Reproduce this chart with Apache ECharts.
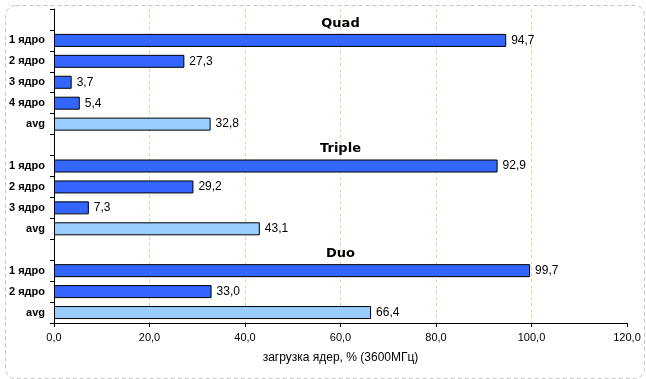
<!DOCTYPE html>
<html>
<head>
<meta charset="utf-8">
<script src="https://cdn.jsdelivr.net/npm/echarts@6/dist/echarts.min.js"></script>
<style>
html,body{margin:0;padding:0;background:#fff;}
#chart{width:646px;height:379px;}
</style>
</head>
<body>
<div id="chart"></div>
<script>
const groups = ['Quad', 'Triple', 'Duo'];
const rowLabels = [
  ['1 ядро', '2 ядро', '3 ядро', '4 ядро', 'avg'],
  ['1 ядро', '2 ядро', '3 ядро', 'avg'],
  ['1 ядро', '2 ядро', 'avg']
];
const values = [
  [94.7, 27.3, 3.7, 5.4, 32.8],
  [92.9, 29.2, 7.3, 43.1],
  [99.7, 33.0, 66.4]
];
const xTicks = { min: 0, max: 120, interval: 20 };
const axisName = 'загрузка ядер, % (3600МГц)';

const categories = [];
const barData = [];
const headerData = [];
groups.forEach((g, gi) => {
  categories.push(g + '|');
  headerData.push({ value: [(xTicks.min + xTicks.max) / 2, categories.length - 1], name: g });
  barData.push(null);
  rowLabels[gi].forEach((lab, ri) => {
    categories.push(g + '|' + lab);
    barData.push({
      value: values[gi][ri],
      itemStyle: { color: lab === 'avg' ? '#99ccff' : '#3366ff' }
    });
  });
});

const fmt = v => v.toFixed(1).replace('.', ',');

const chart = echarts.init(document.getElementById('chart'), null, { renderer: 'canvas' });
chart.setOption({
  animation: false,
  backgroundColor: '#ffffff',
  grid: { left: 54, right: 19, top: 9, bottom: 56, containLabel: false },
  xAxis: {
    type: 'value',
    min: xTicks.min, max: xTicks.max, interval: xTicks.interval,
    name: axisName,
    nameLocation: 'middle',
    nameGap: 29,
    nameTextStyle: { fontFamily: 'Liberation Sans', fontSize: 12, color: '#000' },
    axisLine: { show: true, lineStyle: { color: '#000', width: 1 } },
    axisTick: { show: true, length: 4, lineStyle: { color: '#000' } },
    axisLabel: { margin: 9, fontFamily: 'Liberation Sans', fontSize: 11, color: '#000', formatter: v => fmt(v) },
    splitLine: { show: true, showMinLine: false, showMaxLine: false, lineStyle: { color: '#f5cc9c', type: [3, 3], width: 1 } }
  },
  yAxis: {
    type: 'category',
    inverse: true,
    data: categories,
    axisLine: { show: true, lineStyle: { color: '#000', width: 1 } },
    axisTick: { show: true, length: 4, lineStyle: { color: '#000' } },
    axisLabel: {
      margin: 9,
      fontFamily: 'Liberation Sans', fontWeight: 'bold', fontSize: 11, color: '#000',
      formatter: v => v.split('|')[1]
    },
    splitLine: { show: false }
  },
  series: [
    {
      type: 'bar',
      data: barData,
      barWidth: 13,
      z: 3,
      itemStyle: { borderColor: '#000', borderWidth: 1 },
      label: {
        show: true, position: 'right', distance: 5,
        fontFamily: 'Liberation Sans', fontSize: 12, color: '#000',
        formatter: p => fmt(p.value)
      }
    },
    {
      type: 'scatter',
      data: headerData,
      symbolSize: 0,
      z: 4,
      itemStyle: { opacity: 1 },
      label: {
        show: true, position: 'inside', offset: [0, 4],
        fontFamily: 'DejaVu Sans', fontWeight: 'bold', fontSize: 13, color: '#000',
        textBorderWidth: 0,
        formatter: p => p.name
      }
    }
  ],
  graphic: [{
    type: 'rect',
    left: 3, top: 3,
    shape: { width: 639, height: 373, r: 10 },
    style: { fill: 'none', stroke: '#c4c4c4', lineWidth: 1, lineDash: [4, 3] },
    silent: true,
    z: -1
  }]
});
</script>
</body>
</html>
